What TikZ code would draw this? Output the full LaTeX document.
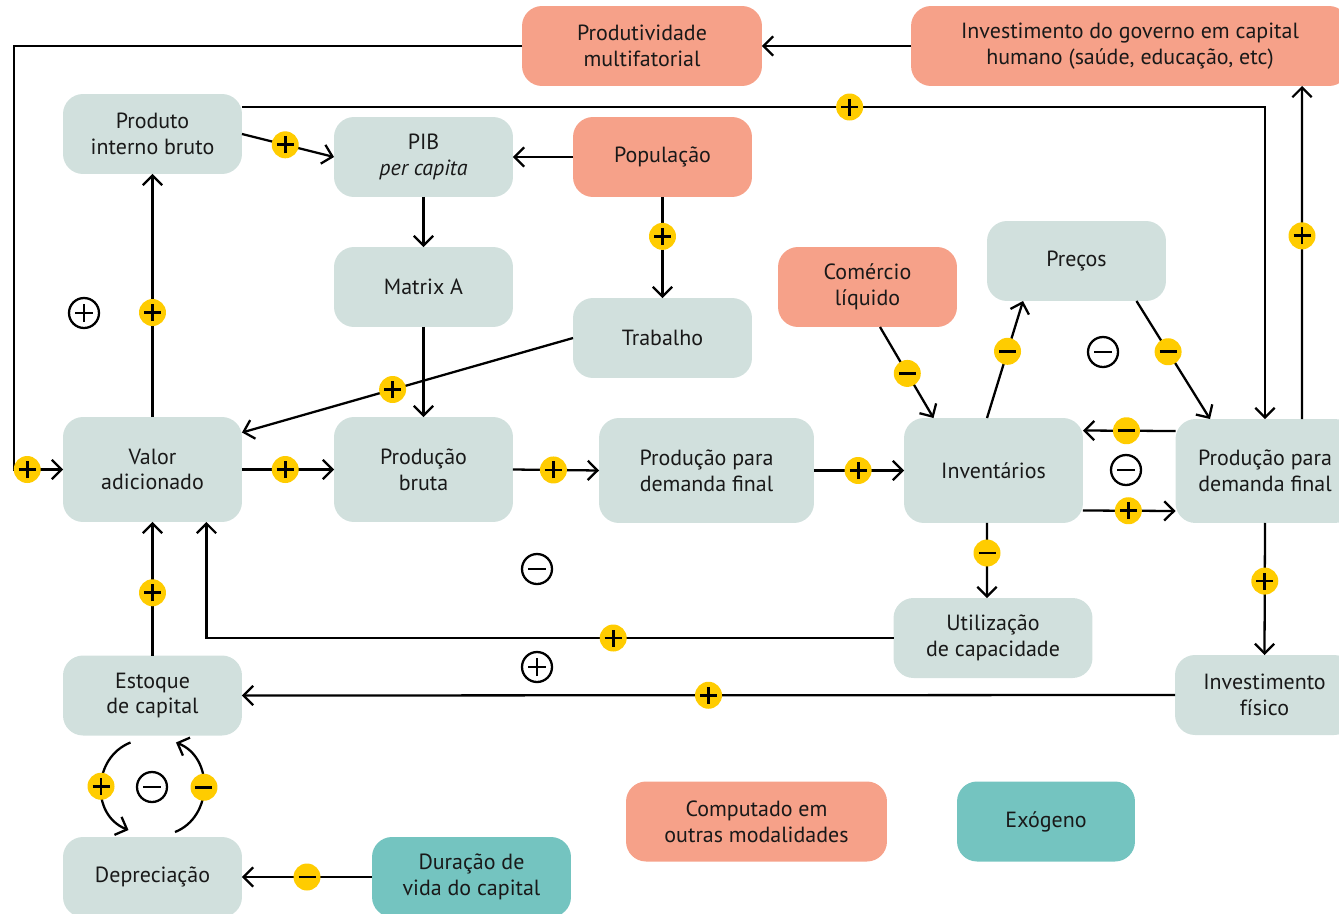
\documentclass[tikz,border=0pt]{standalone}
\usepackage{fontspec}
\setmainfont{PT Sans}
\usetikzlibrary{arrows.meta}
\definecolor{cinza}{RGB}{209,224,221}
\definecolor{salmao}{RGB}{246,161,137}
\definecolor{verde}{RGB}{116,196,192}
\definecolor{amarelo}{RGB}{255,204,0}
\tikzset{
  caixa/.style={rounded corners=0.4cm,fill=cinza,minimum width=3.58cm,minimum height=1.6cm,
    align=center,inner sep=0pt,outer sep=0pt,text=black!90,font=\fontsize{12.5}{14.7}\selectfont},
  externa/.style={caixa,fill=salmao},
  exogena/.style={caixa,fill=verde},
  sinal/.style={circle,fill=amarelo,minimum size=0.54cm,inner sep=0pt,outer sep=0pt},
  mais/.style={sinal,path picture={
    \draw[-,line width=1.6pt] ([xshift=-0.17cm]path picture bounding box.center) -- ([xshift=0.17cm]path picture bounding box.center)
      ([yshift=-0.17cm]path picture bounding box.center) -- ([yshift=0.17cm]path picture bounding box.center);}},
  menos/.style={sinal,path picture={
    \draw[-,line width=1.6pt] ([xshift=-0.17cm]path picture bounding box.center) -- ([xshift=0.17cm]path picture bounding box.center);}},
  laco/.style={circle,draw,line width=1.3pt,minimum size=0.6cm,inner sep=0pt},
  lacomais/.style={laco,path picture={
    \draw[-,line width=1.3pt] ([xshift=-0.18cm]path picture bounding box.center) -- ([xshift=0.18cm]path picture bounding box.center)
      ([yshift=-0.18cm]path picture bounding box.center) -- ([yshift=0.18cm]path picture bounding box.center);}},
  lacomenos/.style={laco,path picture={
    \draw[-,line width=1.3pt] ([xshift=-0.18cm]path picture bounding box.center) -- ([xshift=0.18cm]path picture bounding box.center);}},
  fluxo/.style={->,line width=1.3pt},
  >={Straight Barb[length=5.5pt,width=11pt]}
}

\begin{document}
\begin{tikzpicture}[x=0.02cm,y=-0.02cm]
\clip (0,0) rectangle (1339,913);
% caixas
\node[externa,minimum width=4.8cm] (prod) at (642,46) {Produtividade\\multifatorial};
\node[externa,minimum width=8.76cm] (gov) at (1130,46) {Investimento do governo em capital\\humano (saúde, educação, etc)};
\node[caixa] (pib) at (152.5,134) {Produto\\interno bruto};
\node[caixa] (pibpc) at (423.5,157) {PIB\\\textit{per capita}};
\node[externa] (pop) at (662.5,157) {População};
\node[caixa] (mat) at (423.5,287) {Matrix A};
\node[caixa] (trab) at (662.5,338) {Trabalho};
\node[externa] (com) at (867.5,287) {Comércio\\líquido};
\node[caixa] (pre) at (1076.5,261) {Preços};
\node[caixa,minimum height=2.1cm] (val) at (152.5,469.5) {Valor\\adicionado};
\node[caixa,minimum height=2.1cm] (pbr) at (423.5,469.5) {Produção\\bruta};
\node[caixa,minimum height=2.1cm,minimum width=4.3cm] (pdf1) at (706.5,470.5) {Produção para\\demanda final};
\node[caixa,minimum height=2.1cm] (inv) at (993.5,470.5) {Inventários};
\node[caixa,minimum height=2.08cm] (pdf2) at (1265,471) {Produção para\\demanda final};
\node[caixa,minimum width=3.98cm] (util) at (993,638) {Utilização\\de capacidade};
\node[caixa] (fis) at (1264.5,695) {Investimento\\físico};
\node[caixa] (est) at (152.5,695.5) {Estoque\\de capital};
\node[caixa] (dep) at (152.5,877) {Depreciação};
\node[exogena,minimum width=3.98cm] (dur) at (471.5,877) {Duração de\\vida do capital};
\node[externa,minimum width=5.22cm] (comp) at (756.5,821.5) {Computado em\\outras modalidades};
\node[exogena,minimum width=3.56cm] (exo) at (1046,821.5) {Exógeno};
% ligacoes
\draw[fluxo] (prod.west) -| (14,0 |- val.west) -- node[mais,pos=0.27] (s1) {} (val.west);
\draw[fluxo] (gov.west) -- (prod.east);
\draw[fluxo] ([yshift=0.54cm]pib.east) -| node[mais,pos=0.297] (s2) {} (pdf2.north);
\draw[fluxo] ([xshift=0.74cm]pdf2.north) -- node[mais,pos=0.55] (s3) {} (1302,0 |- gov.south);
\draw[fluxo] (pib.east) -- node[mais,pos=0.47] (s4) {} (pibpc.west);
\draw[fluxo] (pop.west) -- (pibpc.east);
\draw[fluxo] (pibpc.south) -- (mat.north);
\draw[fluxo] (pop.south) -- node[mais,pos=0.39] (s5) {} (trab.north);
\draw[fluxo] (mat.south) -- (pbr.north);
\draw[fluxo] (trab.west) -- node[mais,pos=0.545] (s6) {} ([yshift=0.74cm]val.east);
\draw[fluxo] (val.north) -- node[mais,pos=0.43] (s7) {} (pib.south);
\draw[fluxo] (val.east) -- node[mais,pos=0.47] (s8) {} (pbr.west);
\draw[fluxo] (pbr.east) -- node[mais,pos=0.47] (s9) {} (pdf1.west);
\draw[fluxo] (pdf1.east) -- node[mais,pos=0.49] (s10) {} (inv.west);
\draw[fluxo] ([xshift=0.25cm]com.south) -- node[menos,pos=0.51] (s11) {} ([xshift=-1.2cm]inv.north);
\draw[fluxo] ([xshift=-0.13cm]inv.north) -- node[menos,pos=0.57] (s12) {} ([xshift=-1.07cm]pre.south);
\draw[fluxo] ([xshift=1.2cm]pre.south) -- node[menos,pos=0.43] (s13) {} ([xshift=-1.1cm]pdf2.north);
\draw[fluxo] ([yshift=0.8cm]pdf2.west) -- node[menos,pos=0.53] (s14) {} ([yshift=0.8cm]inv.east);
\draw[fluxo] ([yshift=-0.8cm]inv.east) -- node[mais,pos=0.49] (s15) {} ([yshift=-0.8cm]pdf2.west);
\draw[fluxo] ([xshift=-0.13cm]inv.south) -- node[menos,pos=0.4] (s16) {} (987,0 |- util.north);
\draw[fluxo] (util.west) -| node[mais,pos=0.204] (s17) {} ([xshift=1.08cm]val.south);
\draw[fluxo] (est.north) -- node[mais,pos=0.47] (s18) {} (val.south);
\draw[fluxo] (pdf2.south) -- node[mais,pos=0.44] (s19) {} (fis.north);
\draw[fluxo] (fis.west) -- node[mais,pos=0.5] (s20) {} (est.east);
\draw[fluxo] ([xshift=-0.44cm,yshift=-0.14cm]est.south) .. controls +(-38,15) and +(-38,-15) .. node[mais,pos=0.5] (s21) {} ([xshift=-0.48cm,yshift=0.14cm]dep.north);
\draw[fluxo] ([xshift=0.45cm,yshift=0.1cm]dep.north) .. controls +(38,-15) and +(38,15) .. node[menos,pos=0.5] (s22) {} ([xshift=0.47cm,yshift=-0.14cm]est.south);
\draw[fluxo] (dur.west) -- node[menos,pos=0.5] (s23) {} (dep.east);
% sinais dos lacos
\foreach \x/\y/\s [count=\i] in {84/313/mais,537/569/menos,537/667/mais,1103/352/menos,1126/470/menos,152/787/menos}
  \node[laco\s] (laco\i) at (\x,\y) {};
\end{tikzpicture}
\end{document}
